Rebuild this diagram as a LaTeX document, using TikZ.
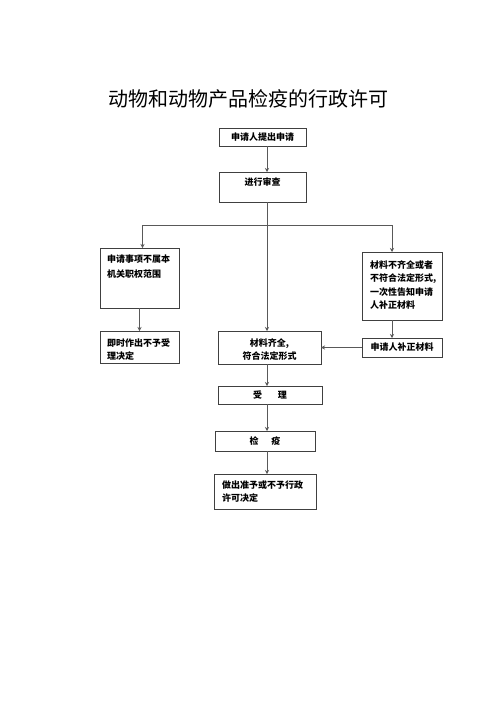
\documentclass[tikz,border=0pt]{standalone}
\usepackage{fontspec}
\newfontfamily\cjk{Noto Sans CJK SC}
\usetikzlibrary{arrows.meta}
\newcommand\boxfont{\cjk\bfseries\fontsize{9}{13.5}\selectfont}

\begin{document}
\begin{tikzpicture}[
		x=1pt,y=-1pt,
		box/.style={
			draw=black!75,line width=0.6pt,anchor=north west,inner xsep=6pt,inner ysep=0pt,
			outer sep=0pt,font=\boxfont,align=left,
		},
		midbox/.style={
			box,align=center,
		},
		link/.style={
			draw=black!65,line width=0.6pt,-{Stealth[length=4pt,width=4pt]},
		},
	]
	\useasboundingbox[fill=white] (0,0) rectangle (500,707);

	% title
	\node[font=\cjk\fontsize{20}{24}\selectfont] (title) at (248,99) {动物和动物产品检疫的行政许可};

	% main column
	\node[midbox,text width=75pt,text height=12.2pt,text depth=5.8pt] (apply) at (219,128) {申请人提出申请};
	\node[midbox,text width=75pt,text height=13.2pt,text depth=16.8pt] (review) at (219,172) {进行审查};
	\node[midbox,text width=91pt,text height=15.4pt,text depth=17.6pt] (ok) at (218,331) {材料齐全,\\符合法定形式};
	\node[midbox,text width=92pt,text height=12.4pt,text depth=5.6pt] (accept) at (218,386) {受\hspace{16pt}理};
	\node[midbox,text width=88pt,text height=13.4pt,text depth=6.6pt] (quarantine) at (215,431) {检\hspace{13pt}疫};
	\node[box,inner xsep=8pt,text width=86pt,text height=14.4pt,text depth=20.6pt] (decide) at (214,474) {做出准予或不予行政\\许可决定};

	% left branch
	\node[box,inner xsep=7pt,text width=65pt,text height=14.4pt,text depth=45.6pt] (outside) at (100,248) {申请事项不属本\\[2pt]机关职权范围};
	\node[box,inner xsep=7pt,text width=65pt,text height=15.4pt,text depth=16.6pt] (refuse) at (100,331) {即时作出不予受\\理决定};

	% right branch
	\node[box,inner xsep=8pt,text width=64pt,text height=16.4pt,text depth=51.6pt] (incomplete) at (362,252) {材料不齐全或者\\不符合法定形式,\\一次性告知申请\\人补正材料};
	\node[midbox,text width=68pt,text height=12.9pt,text depth=6.1pt] (supplement) at (362,338) {申请人补正材料};

	\coordinate (spine) at (267,225);

	% connectors
	\draw[link] (apply.south -| spine) -- (review.north -| spine);
	\draw[link] (review.south -| spine) -- (ok.north -| spine);
	\draw[link] (spine) -| ([xshift=3pt]outside.north);
	\draw[link] (spine) -| ([xshift=-10pt]incomplete.north);
	\draw[link] (outside.south) -- (refuse.north);
	\draw[link] ([xshift=-10pt]incomplete.south) -- ([xshift=-10pt]supplement.north);
	\draw[link] (supplement.west) -- (supplement.west -| ok.east);
	\foreach \a/\b in {ok/accept,accept/quarantine,quarantine/decide}
	\draw[link] (\a.south -| spine) -- (\b.north -| spine);

\end{tikzpicture}
\end{document}
